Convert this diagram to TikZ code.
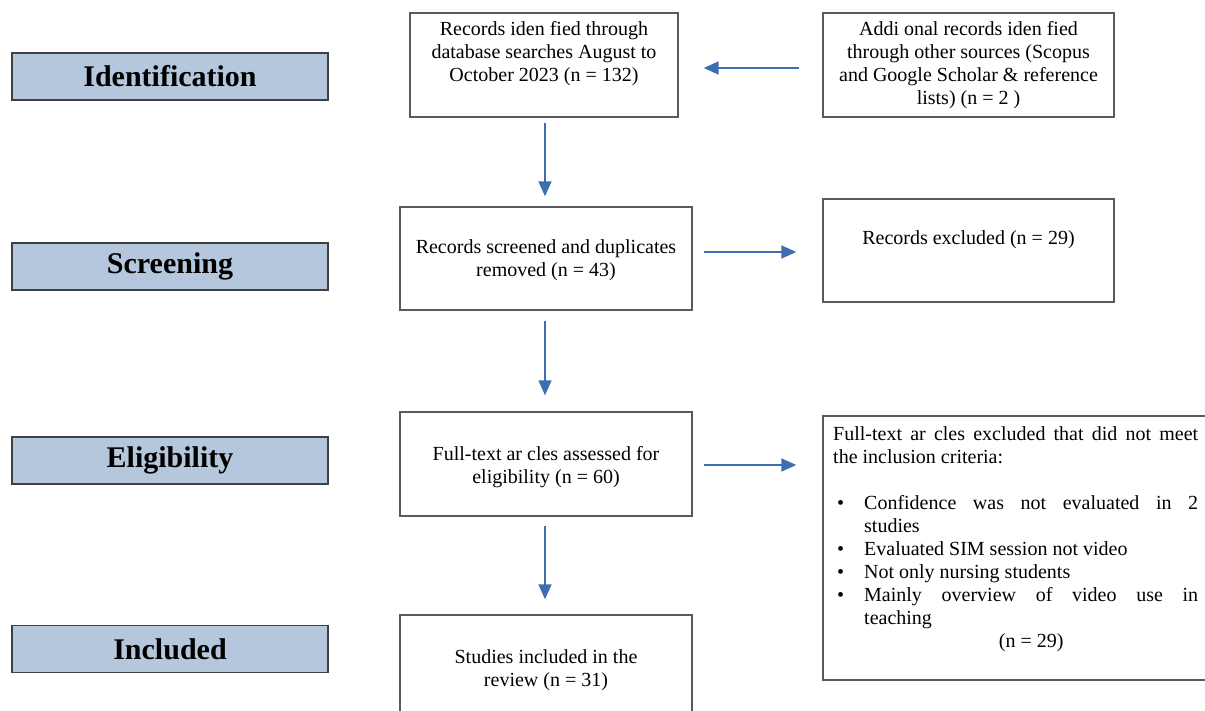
\documentclass[tikz,border=0pt]{standalone}
\usepackage{fontspec}
\setmainfont{Liberation Serif}
\usetikzlibrary{arrows.meta,calc}
\definecolor{lblfill}{HTML}{B4C7DC}
\definecolor{lblborder}{HTML}{404040}
\definecolor{boxborder}{HTML}{5A5A5A}
\definecolor{arrowblue}{HTML}{3F6EB0}
\newcommand{\myitem}[1]{\makebox[31pt][l]{\hspace*{4pt}\textbullet}#1}
\begin{document}
\begin{tikzpicture}[x=1pt,y=-1pt,
  stage/.style={draw=lblborder,line width=1.5pt,fill=lblfill,minimum width=316pt,minimum height=47pt,inner sep=0pt,font=\fontsize{30}{34}\selectfont\bfseries},
  flowbox/.style={draw=boxborder,line width=1.3pt,inner sep=0pt},
  txt/.style={inner sep=0pt,anchor=base,font=\fontsize{20}{23}\selectfont},
  arr/.style={draw=arrowblue,line width=1.6pt,-{Triangle[length=15pt,width=13pt,fill=arrowblue]}}]
\useasboundingbox (0,0) rectangle (1205,711);

% stage labels
\node[stage] (id) at (170,76.5) {Identification};
\node[stage] (sc) at (170,266.5) {Screening};
\node[stage] (el) at (170,460.5) {Eligibility};
\node[stage] (in) at (170,649) {Included};

% boxes
\node[flowbox,minimum width=268pt,minimum height=104pt] (A) at (544,65) {};
\node[txt] (At) at (544,36) {\parbox[t]{268pt}{\centering Records iden fied through\\database searches August to\\October 2023 (n = 132)}};

\node[flowbox,minimum width=291pt,minimum height=104pt] (B) at (968.5,65) {};
\node[txt] (Bt) at (968.5,36) {\parbox[t]{291pt}{\centering Addi onal records iden fied\\through other sources (Scopus\\and Google Scholar \& reference\\lists) (n = 2 )}};

\node[flowbox,minimum width=292pt,minimum height=103pt] (C) at (546,258.5) {};
\node[txt] (Ct) at (546,254) {\parbox[t]{292pt}{\centering Records screened and duplicates\\removed (n = 43)}};

\node[flowbox,minimum width=291pt,minimum height=103pt] (D) at (968.5,250.5) {};
\node[txt] (Dt) at (968.5,245) {\parbox[t]{291pt}{\centering Records excluded (n = 29)}};

\node[flowbox,minimum width=292pt,minimum height=104pt] (E) at (546,464) {};
\node[txt] (Et) at (546,460) {\parbox[t]{292pt}{\centering Full-text ar cles assessed for\\eligibility (n = 60)}};

\node[flowbox,minimum width=292pt,minimum height=105pt] (G) at (546,667.5) {};
\node[txt] (Gt) at (546,663) {\parbox[t]{292pt}{\centering Studies included in the\\review (n = 31)}};

\node[flowbox,minimum width=387pt,minimum height=264pt] (F) at (1016.5,548) {};
\node[txt,anchor=base west] (Ft) at (833,440) {\parbox[t]{365pt}{%
\makebox[365pt][s]{Full-text ar cles excluded that did not meet}\\
the inclusion criteria:\\
\mbox{}\\
\myitem{\makebox[334pt][s]{Confidence was not evaluated in 2}}\\
\hspace*{31pt}studies\\
\myitem{Evaluated SIM session not video}\\
\myitem{Not only nursing students}\\
\myitem{\makebox[334pt][s]{Mainly overview of video use in}}\\
\hspace*{31pt}teaching\\
\hspace*{31pt}\makebox[334pt][c]{(n = 29)}}};

% connectors
\draw[arr] ($(B.west)+(-23,3)$) -- ($(A.east)+(25,3)$);
\draw[arr] ($(A.south)+(1,5)$) -- ($(C.north)+(-1,-10)$);
\draw[arr] ($(C.east)+(11,-6.5)$) -- ($(D.west)+(-26,1.5)$);
\draw[arr] ($(C.south)+(-1,10)$) -- ($(E.north)+(-1,-16)$);
\draw[arr] ($(E.east)+(11,1)$) -- ($(F.west)+(-26,-83)$);
\draw[arr] ($(E.south)+(-1,9)$) -- ($(G.north)+(-1,-15)$);
\end{tikzpicture}
\end{document}
